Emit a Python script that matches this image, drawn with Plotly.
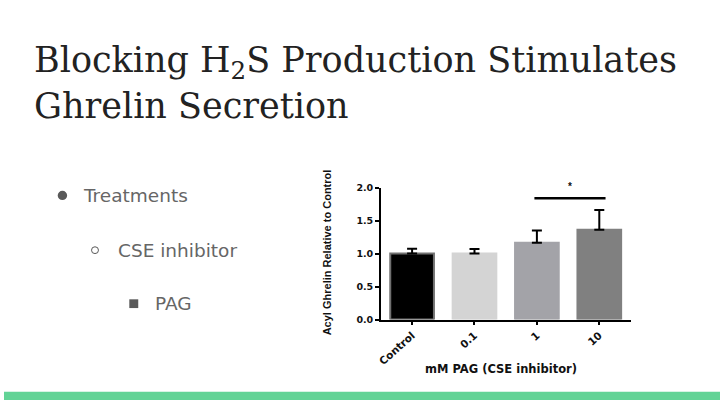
import plotly.graph_objects as go

# ---- data ----
categories = ["Control", "0.1", "1", "10"]
means = [1.00, 1.00, 1.165, 1.36]
sem_upper = [0.075, 0.07, 0.185, 0.30]
bar_colors = ["#000000", "#d4d4d4", "#a3a3a8", "#808080"]
bar_line_colors = ["#707070", "#d4d4d4", "#a3a3a8", "#808080"]
y_ticks = [0.0, 0.5, 1.0, 1.5, 2.0]
sig_label = "*"
sig_pair = ["1", "10"]
sig_height = 1.84

title_line1 = "Blocking H<sub>2</sub>S Production Stimulates"
title_line2 = "Ghrelin Secretion"
bullets = ["Treatments", "CSE inhibitor", "PAG"]
x_title = "mM PAG (CSE inhibitor)"
y_title = "Acyl Ghrelin Relative to Control"

W, H = 720, 405
def px(x): return x / W
def py(y): return 1 - y / H

fig = go.Figure()
fig.add_trace(go.Bar(
    x=categories, y=means,
    marker=dict(color=bar_colors, line=dict(color=bar_line_colors, width=2)),
    error_y=dict(type="data", symmetric=False, array=sem_upper,
                 arrayminus=[0] * len(sem_upper), color="#000000",
                 thickness=2, width=5),
    showlegend=False, hoverinfo="skip",
))

lab = "DejaVu Sans"
fig.update_layout(
    width=W, height=H,
    margin=dict(l=0, r=0, t=0, b=0),
    paper_bgcolor="white", plot_bgcolor="white",
    bargap=0.3,
    xaxis=dict(
        domain=[px(379), px(630)],
        showline=True, linecolor="black", linewidth=1.5,
        ticks="outside", ticklen=4, tickwidth=1.5, tickcolor="black",
        tickangle=-42, showgrid=False, zeroline=False,
        tickvals=categories, ticktext=[f"<b>{c}</b>" for c in categories],
        tickfont=dict(family=lab, size=10.5, color="#111"),
    ),
    yaxis=dict(
        domain=[1 - 322.3 / H, 1 - 186.7 / H],
        range=[0, 2], tickvals=y_ticks,
        ticktext=[f"<b>{v:.1f}</b>" for v in y_ticks],
        showline=True, linecolor="black", linewidth=1.5,
        ticks="outside", ticklen=4, tickwidth=1.5, tickcolor="black",
        showgrid=False, zeroline=False,
        tickfont=dict(family=lab, size=9.5, color="#111"),
    ),
)

# axis titles
fig.add_annotation(xref="paper", yref="paper", x=px(500), y=py(373),
                   text=f"<b>{x_title}</b>", showarrow=False,
                   xanchor="center", yanchor="middle",
                   font=dict(family=lab, size=11.5, color="#111"))
fig.add_annotation(xref="paper", yref="paper", x=px(325), y=py(253),
                   text=f"<b>{y_title}</b>", showarrow=False, textangle=-90,
                   xanchor="center", yanchor="middle",
                   font=dict(family="Liberation Sans", size=11, color="#111"))

# significance bracket
i0 = categories.index(sig_pair[0]); i1 = categories.index(sig_pair[1])
fig.add_shape(type="line", xref="x", yref="y", x0=i0 - 0.04, x1=i1 + 0.1,
              y0=sig_height, y1=sig_height, line=dict(color="black", width=2.5))
fig.add_annotation(xref="x", yref="y", x=(i0 + i1) / 2 + 0.03, y=sig_height + 0.07,
                   text=f"<b>{sig_label}</b>", showarrow=False, yanchor="bottom",
                   font=dict(family="Liberation Sans", size=10, color="#111"))

# title
serif = "DejaVu Serif"
for txt, yy in [(title_line1, 75), (title_line2, 116.7)]:
    fig.add_annotation(xref="paper", yref="paper", x=px(28), y=py(yy),
                       xanchor="left", yanchor="bottom", text=txt, showarrow=False,
                       font=dict(family=serif, size=35, color="#222222"), yshift=-8)

# bullets
sans = "DejaVu Sans"
bullet_pos = [(77, 195), (113, 251), (150, 306)]
for txt, (bx, by) in zip(bullets, bullet_pos):
    fig.add_annotation(xref="paper", yref="paper", x=px(bx), y=py(by),
                       xanchor="left", yanchor="middle", text=txt, showarrow=False,
                       font=dict(family=sans, size=18.5, color="#666666"))
fig.add_shape(type="circle", xref="paper", yref="paper",
              x0=px(54), x1=px(63.5), y0=py(199.5), y1=py(190),
              fillcolor="#595959", line=dict(width=0))
fig.add_shape(type="circle", xref="paper", yref="paper",
              x0=px(88), x1=px(95), y0=py(254.5), y1=py(247.5),
              fillcolor="white", line=dict(color="#595959", width=1))
fig.add_shape(type="rect", xref="paper", yref="paper",
              x0=px(126), x1=px(135), y0=py(310.5), y1=py(301.5),
              fillcolor="#595959", line=dict(width=0))

# bottom green band
fig.add_shape(type="rect", xref="paper", yref="paper", x0=0, x1=1,
              y0=0, y1=8.5 / H, fillcolor="#62d396", line=dict(width=0))

# remove the default 8px page margin so the 720x405 figure fills the window
fig.write_html("out.html",
               config={"displayModeBar": False},
               post_script="document.body.style.margin='0';"
                           "document.body.style.overflow='hidden';")
